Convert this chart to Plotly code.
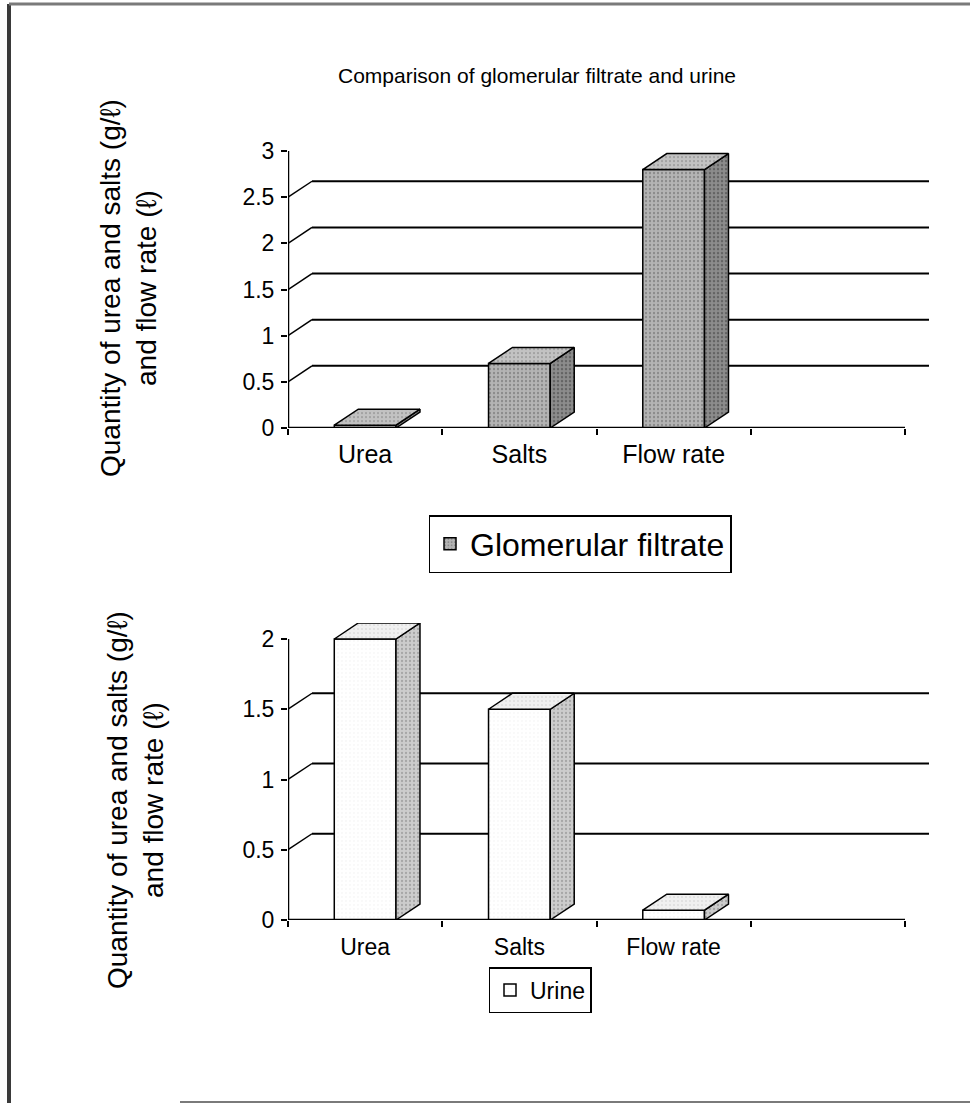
import plotly.graph_objects as go

# ---- data ----
categories = ["Urea", "Salts", "Flow rate"]
filtrate_values = [0.03, 0.7, 2.8]
urine_values = [2.0, 1.5, 0.07]
filtrate_ticks = [0, 0.5, 1, 1.5, 2, 2.5, 3]
urine_ticks = [0, 0.5, 1, 1.5, 2]
y_title = "Quantity of urea and salts (g/ℓ)<br>and flow rate (ℓ)"
chart_title = "Comparison of glomerular filtrate and urine"

# ---- page geometry (pixels) ----
W, H = 970, 1106
AX_LEFT, AX_RIGHT = 288, 905          # x extent of the category axis
DEPTH_X, DEPTH_Y = 24, 16             # 3-D depth offset of walls and columns
N_SLOTS = 4                           # three categories plus one empty slot
SLOT_PX = (AX_RIGHT - AX_LEFT) / N_SLOTS
DXD = DEPTH_X / SLOT_PX               # depth offset in category units
BAR_W = 0.4

FONT = "Liberation Sans, Arial, sans-serif"


def stipple(bg, fg, solidity):
    return dict(shape=".", bgcolor=bg, fgcolor=fg, size=4, solidity=solidity)


panels = [
    dict(values=filtrate_values, ticks=filtrate_ticks, zero_px=428, ppu=92.3,
         front=stipple("#b4b4b4", "#5c5c5c", 0.25),
         side=stipple("#8c8c8c", "#3c3c3c", 0.3),
         top=stipple("#c2c2c2", "#707070", 0.2),
         swatch="#a4a4a4",
         name="Glomerular filtrate", legend="legend", xa="x", ya="y",
         xl="x3", label_size=25, standoff=9),
    dict(values=urine_values, ticks=urine_ticks, zero_px=920, ppu=140.5,
         front=stipple("#ffffff", "#dcdcdc", 0.08),
         side=stipple("#cccccc", "#808080", 0.25),
         top=stipple("#f0f0f0", "#a8a8a8", 0.12),
         swatch="#ffffff",
         name="Urine", legend="legend2", xa="x2", ya="y2",
         xl="x4", label_size=23, standoff=11),
]

fig = go.Figure()
shapes = []
annotations = []
layout = {}

for k, p in enumerate(panels):
    dyd = DEPTH_Y / p["ppu"]
    ymax = max(p["ticks"]) + dyd
    top_px = p["zero_px"] - ymax * p["ppu"]
    xa_name = "xaxis" if p["xa"] == "x" else "xaxis" + p["xa"][1:]
    ya_name = "yaxis" if p["ya"] == "y" else "yaxis" + p["ya"][1:]
    xl_name = "xaxis" + p["xl"][1:]
    xrange = [-0.5, N_SLOTS - 0.5 + DXD]
    xdomain = [AX_LEFT / W, (AX_RIGHT + DEPTH_X) / W]
    ydomain = [1 - p["zero_px"] / H, 1 - top_px / H]

    # tick marks on the slot boundaries
    layout[xa_name] = dict(
        domain=xdomain, range=xrange, anchor=p["ya"], showgrid=False,
        zeroline=False, showline=False, ticks="outside", ticklen=6,
        tickwidth=2, tickcolor="black",
        tickvals=[i - 0.5 for i in range(N_SLOTS + 1)],
        showticklabels=False, fixedrange=True,
    )
    # category names centred under each slot
    layout[xl_name] = dict(
        domain=xdomain, range=xrange, anchor=p["ya"], overlaying=p["xa"],
        showgrid=False, zeroline=False, showline=False, ticks="",
        tickvals=list(range(len(categories))), ticktext=categories,
        tickfont=dict(family=FONT, size=p["label_size"], color="black"),
        ticklabelstandoff=p["standoff"], fixedrange=True,
    )
    layout[ya_name] = dict(
        domain=ydomain, range=[0, ymax], anchor=p["xa"], showgrid=False,
        zeroline=False, showline=False, ticks="outside", ticklen=6,
        tickwidth=2, tickcolor="black", tickvals=p["ticks"],
        ticktext=[f"{t:g}" for t in p["ticks"]],
        tickfont=dict(family=FONT, size=23, color="black"),
        ticklabelstandoff=2, fixedrange=True,
    )
    # the label axis needs a trace of its own to be drawn
    fig.add_trace(go.Scatter(x=[0], y=[0], xaxis=p["xl"], yaxis=p["ya"],
                             mode="markers", marker=dict(opacity=0),
                             showlegend=False, hoverinfo="skip"))

    # back-wall gridlines with their diagonal connectors
    for t in p["ticks"][1:-1]:
        shapes.append(dict(type="line", xref=p["xa"], yref=p["ya"],
                           x0=-0.5 + DXD, x1=N_SLOTS - 0.5 + DXD,
                           y0=t + dyd, y1=t + dyd, layer="below",
                           line=dict(color="black", width=2)))
        shapes.append(dict(type="line", xref=p["xa"], yref=p["ya"],
                           x0=-0.5, x1=-0.5 + DXD, y0=t, y1=t + dyd,
                           layer="below", line=dict(color="black", width=1.5)))

    # axis lines
    shapes.append(dict(type="line", xref=p["xa"], yref=p["ya"],
                       x0=-0.5, x1=N_SLOTS - 0.5, y0=0, y1=0, layer="above",
                       line=dict(color="black", width=2.5)))
    shapes.append(dict(type="line", xref=p["xa"], yref=p["ya"],
                       x0=-0.5, x1=-0.5, y0=0, y1=max(p["ticks"]),
                       layer="above", line=dict(color="black", width=2.5)))

    # column front faces
    xs = list(range(len(categories)))
    fig.add_trace(go.Bar(
        x=xs, y=p["values"], width=BAR_W, xaxis=p["xa"], yaxis=p["ya"],
        marker=dict(color=p["swatch"], pattern=p["front"],
                    line=dict(color="black", width=1.5)),
        name=p["name"], legend=p["legend"], hoverinfo="skip",
    ))

    # column side and top faces
    hw = BAR_W / 2
    for c, v in zip(xs, p["values"]):
        side_x = [c + hw, c + hw + DXD, c + hw + DXD, c + hw, c + hw]
        side_y = [0, dyd, v + dyd, v, 0]
        top_x = [c - hw, c - hw + DXD, c + hw + DXD, c + hw, c - hw]
        top_y = [v, v + dyd, v + dyd, v, v]
        for fx, fy, pat in ((side_x, side_y, p["side"]), (top_x, top_y, p["top"])):
            fig.add_trace(go.Scatter(
                x=fx, y=fy, xaxis=p["xa"], yaxis=p["ya"], mode="lines",
                fill="toself", fillcolor=pat["bgcolor"], fillpattern=pat,
                line=dict(color="black", width=1.5),
                showlegend=False, hoverinfo="skip",
            ))

# axis titles
for cx, cy in ((129, 288), (135, 800)):
    annotations.append(dict(text=y_title, x=cx / W, y=1 - cy / H,
                            xref="paper", yref="paper", textangle=-90,
                            xanchor="center", yanchor="middle",
                            showarrow=False,
                            font=dict(family=FONT, size=28, color="black")))
# chart title
annotations.append(dict(text=chart_title, x=537 / W, y=1 - 75 / H,
                        xref="paper", yref="paper", showarrow=False,
                        xanchor="center", yanchor="middle",
                        font=dict(family=FONT, size=21, color="black")))

# page frame
for x0, y0, x1, y1, col, wd in ((9, 4, 9, 1103, "#3a3a3a", 4),
                                (9, 4, 975, 4, "#7a7a7a", 3),
                                (180, 1102, 975, 1102, "#7a7a7a", 2)):
    shapes.append(dict(type="line", xref="paper", yref="paper",
                       x0=x0 / W, x1=x1 / W, y0=1 - y0 / H, y1=1 - y1 / H,
                       line=dict(color=col, width=wd)))

fig.update_layout(
    width=W, height=H, margin=dict(l=0, r=0, t=0, b=0, autoexpand=False),
    paper_bgcolor="white", plot_bgcolor="rgba(0,0,0,0)",
    barmode="overlay", shapes=shapes, annotations=annotations,
    legend=dict(x=580 / W, y=1 - 544 / H, xanchor="center", yanchor="middle",
                bgcolor="white", bordercolor="black", borderwidth=1.5,
                font=dict(family=FONT, size=32, color="black")),
    legend2=dict(x=540 / W, y=1 - 990 / H, xanchor="center", yanchor="middle",
                 bgcolor="white", bordercolor="black", borderwidth=1.5,
                 font=dict(family=FONT, size=23, color="black")),
    **layout,
)

fig.write_html("out.html")
